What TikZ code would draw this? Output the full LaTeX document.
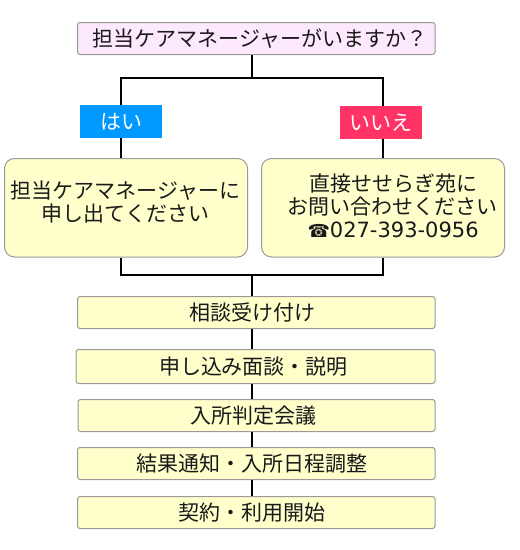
\documentclass[tikz,border=0pt]{standalone}
\usepackage{fontspec}
\setmainfont{Noto Sans CJK JP}
\newfontfamily\djsans{DejaVu Sans}
\definecolor{pinkfill}{HTML}{FDE9FD}
\definecolor{creamfill}{HTML}{FFFFCC}
\definecolor{edgegray}{HTML}{999999}
\definecolor{yesblue}{HTML}{0099FF}
\definecolor{nored}{HTML}{FF3366}
\tikzset{
  flowbox/.style={draw=edgegray,line width=1pt,rounded corners=2.5pt,fill=creamfill,inner sep=0pt,anchor=north west,font=\fontsize{21}{23}\selectfont,text=black!90},
  bigbox/.style={draw=edgegray,line width=1pt,rounded corners=10pt,fill=creamfill,inner sep=0pt,anchor=north west,minimum width=243pt,minimum height=98.5pt},
  tagbox/.style={fill=#1,inner sep=0pt,anchor=north west,minimum width=82pt,minimum height=32.5pt,text=white,font=\fontsize{21}{23}\selectfont},
  bigtext/.style={inner sep=0pt,font=\fontsize{21}{23}\selectfont,text=black!90},
  link/.style={line width=2pt,black}
}
\newcommand{\fbx}[6]{\node[flowbox,minimum width=#4pt,minimum height=#5pt] (#1) at (#2,#3) {#6};}
\begin{document}
\begin{tikzpicture}[x=1pt,y=-1pt]
\useasboundingbox (0,0) rectangle (520,550);
\node[flowbox,fill=pinkfill,minimum width=357.5pt,minimum height=32pt] (ask) at (77,22) {\hspace*{8pt}担当ケアマネージャーがいますか？};
\node[tagbox=yesblue] (yes) at (80,105) {はい};
\node[tagbox=nored] (no) at (340,106) {いいえ};
\node[bigbox] (lbox) at (4,158) {};
\node[bigbox] (rbox) at (261,158) {};
\node[bigtext,align=center] (ltext) at (125.5,202) {担当ケアマネージャーに\\申し出てください};
\node[bigtext,align=left] (rtext) at (392.5,206) {\hspace{22pt}直接せせらぎ苑に\\お問い合わせください\\\hspace{20pt}{\djsans\fontsize{18}{23}\selectfont ☎\fontsize{21}{23}\selectfont 027-393-0956}};
\fbx{s1}{77}{296}{357.5}{32}{\hspace*{-8pt}相談受け付け}
\fbx{s2}{75.5}{349}{359}{34}{\hspace*{-4pt}申し込み面談・説明}
\fbx{s3}{77.5}{399}{357}{32}{\hspace*{-6pt}入所判定会議}
\fbx{s4}{77}{447}{357.5}{32}{\hspace*{-8pt}結果通知・入所日程調整}
\fbx{s5}{77}{496}{357.5}{32}{\hspace*{-9pt}契約・利用開始}
\coordinate (top) at (252,78);
\coordinate (tl) at (121,78);
\coordinate (tr) at (383,78);
\coordinate (bot) at (252,275);
\coordinate (bl) at (121,275);
\coordinate (br) at (383,275);
\draw[link] (ask.south -| top) -- (top);
\draw[link,line cap=rect] (tl) -- (tr);
\draw[link] (tl) -- (yes.north -| tl);
\draw[link] (tr) -- (no.north -| tr);
\draw[link] (yes.south -| tl) -- (lbox.north -| tl);
\draw[link] (no.south -| tr) -- (rbox.north -| tr);
\draw[link] (lbox.south -| bl) -- (bl);
\draw[link] (rbox.south -| br) -- (br);
\draw[link,line cap=rect] (bl) -- (br);
\draw[link] (bot) -- (s1.north -| bot);
\draw[link] (s1.south -| bot) -- (s2.north -| bot);
\draw[link] (s2.south -| bot) -- (s3.north -| bot);
\draw[link] (s3.south -| bot) -- (s4.north -| bot);
\draw[link] (s4.south -| bot) -- (s5.north -| bot);
\end{tikzpicture}
\end{document}
